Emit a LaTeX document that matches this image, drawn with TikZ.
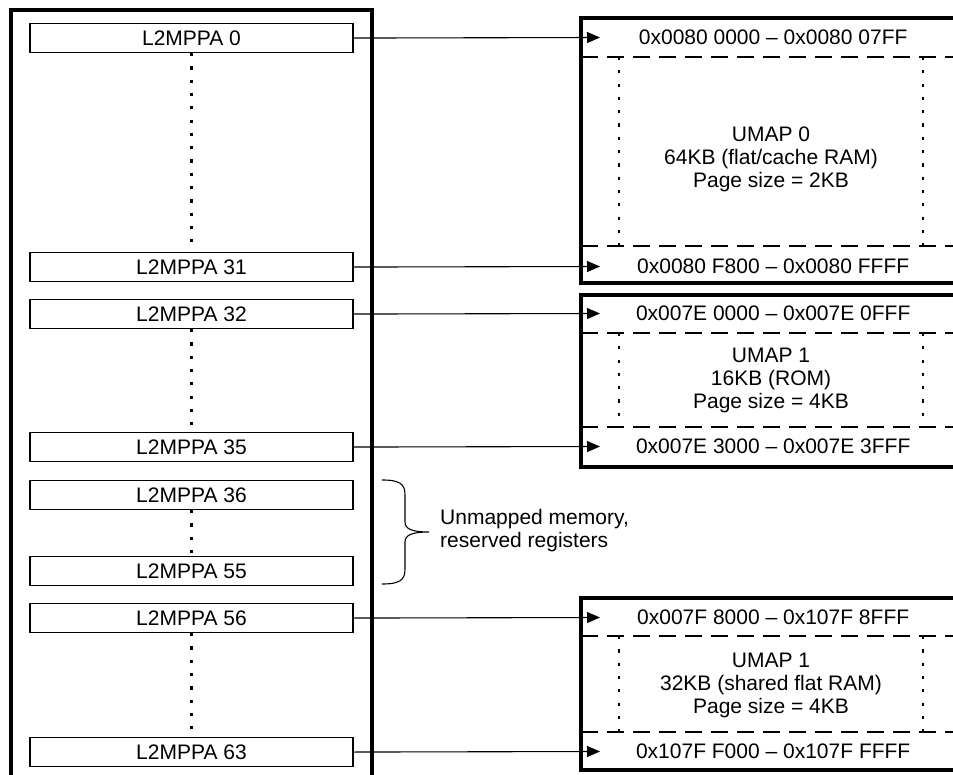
\documentclass[tikz,border=0pt]{standalone}
\usepackage{fontspec}
\setmainfont{Liberation Sans}
\usetikzlibrary{arrows.meta}
\begin{document}
\begin{tikzpicture}[x=1pt,y=-1pt,
  every node/.style={font=\fontsize{21}{23}\selectfont},
  reg/.style={draw,line width=1.1pt,minimum width=323pt,minimum height=29pt,inner sep=0pt,anchor=north},
  frame/.style={line width=3.3pt},
  dotline/.style={line width=2.4pt,dash pattern=on 3.2pt off 10.1pt},
  sepline/.style={line width=1.1pt,dash pattern=on 17pt off 9pt},
  conn/.style={line width=1.1pt,-{Triangle[length=13pt,width=11pt]}},
  addr/.style={anchor=west,minimum width=346pt,inner sep=0pt},
  umap/.style={align=center,inner sep=0pt},
]
\useasboundingbox (0,0) rectangle (953,775);
\clip (0,0) rectangle (953,775);

% left register frame
\draw[frame] (11,10) rectangle (372,800);

% registers
\node[reg] (r0)  at (191.5,23)  {L2MPPA 0};
\node[reg] (r31) at (191.5,252) {L2MPPA 31};
\node[reg] (r32) at (191.5,299) {L2MPPA 32};
\node[reg] (r35) at (191.5,432) {L2MPPA 35};
\node[reg] (r36) at (191.5,480) {L2MPPA 36};
\node[reg] (r55) at (191.5,556) {L2MPPA 55};
\node[reg] (r56) at (191.5,603) {L2MPPA 56};
\node[reg] (r63) at (191.5,737) {L2MPPA 63};

\draw[dotline] (r0.south)  -- (r31.north);
\draw[dotline] (r32.south) -- (r35.north);
\draw[dotline] (r36.south) -- (r55.north);
\draw[dotline] (r56.south) -- (r63.north);

% UMAP 0 block
\draw[frame] (581,18) rectangle (990,283);
\draw[sepline] (581,57) -- (990,57);
\draw[sepline] (581,246) -- (990,246);
\draw[dotline] (619,57) -- (619,246);
\draw[dotline] (923,57) -- (923,246);
\node[addr] (a0)  at (600,37.5)  {0x0080 0000 – 0x0080 07FF};
\node[addr] (a31) at (600,266.5) {0x0080 F800 – 0x0080 FFFF};
\node[umap] (u0) at (771,159) {UMAP 0\\64KB (flat/cache RAM)\\Page size = 2KB};

% UMAP 1 (ROM) block
\draw[frame] (581,295) rectangle (990,467);
\draw[sepline] (581,333) -- (990,333);
\draw[sepline] (581,427) -- (990,427);
\draw[dotline] (619,333) -- (619,427);
\draw[dotline] (923,333) -- (923,427);
\node[addr] (a32) at (600,313.5) {0x007E 0000 – 0x007E 0FFF};
\node[addr] (a35) at (600,446.5) {0x007E 3000 – 0x007E 3FFF};
\node[umap] (u1) at (771,380) {UMAP 1\\16KB (ROM)\\Page size = 4KB};

% UMAP 1 (shared) block
\draw[frame] (581,598) rectangle (990,770);
\draw[sepline] (581,636) -- (990,636);
\draw[sepline] (581,732) -- (990,732);
\draw[dotline] (619,636) -- (619,732);
\draw[dotline] (923,636) -- (923,732);
\node[addr] (a56) at (600,617.5) {0x007F 8000 – 0x107F 8FFF};
\node[addr] (a63) at (600,751.5) {0x107F F000 – 0x107F FFFF};
\node[umap] (u2) at (771,685) {UMAP 1\\32KB (shared flat RAM)\\Page size = 4KB};

% connectors
\draw[conn] (r0.east)  -- (a0.west);
\draw[conn] (r31.east) -- (a31.west);
\draw[conn] (r32.east) -- (a32.west);
\draw[conn] (r35.east) -- (a35.west);
\draw[conn] (r56.east) -- (a56.west);
\draw[conn] (r63.east) -- (a63.west);

% brace
\coordinate (bt) at (382,480);
\coordinate (bb) at (382,584);
\coordinate (btip) at (429,532);
\draw[line width=1.1pt] (bt) .. controls (400,480) and (405,484) .. (405,495) -- (405,522)
  .. controls (405,529) and (412,532) .. (btip)
  .. controls (412,532) and (405,535) .. (405,542) -- (405,569)
  .. controls (405,580) and (400,584) .. (bb);
\node[anchor=west,align=left,inner sep=0pt] (um) at (440,531) {Unmapped memory,\\reserved registers};
\end{tikzpicture}
\end{document}
